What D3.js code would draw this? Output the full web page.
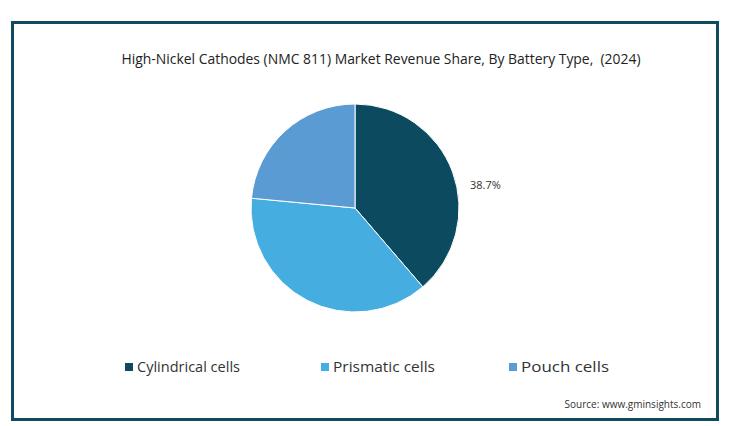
<!DOCTYPE html>
<html><head><meta charset="utf-8">
<script src="https://cdn.jsdelivr.net/npm/d3@7"></script>
<style>body{margin:0;background:#fff;}svg{display:block;font-family:"Source Sans Pro","Open Sans",sans-serif;}</style>
</head><body>
<svg id="c" width="733" height="426"></svg>
<script>
const categories = ["Cylindrical cells", "Prismatic cells", "Pouch cells"];
const shares = [38.7, 37.8, 23.5];
const colors = ["#0c4a5f", "#46ade0", "#5b9bd4"];
const shownLabels = ["38.7%", null, null];
const titleText = "High-Nickel Cathodes (NMC 811) Market Revenue Share, By Battery Type,  (2024)";
const sourceText = "Source: www.gminsights.com";

const svg = d3.select("#c");
svg.append("rect").attr("x", 12.5).attr("y", 22.5).attr("width", 705).attr("height", 397)
  .attr("fill", "#fff").attr("stroke", "#0f4b5f").attr("stroke-width", 3);

svg.append("text").attr("x", 381).attr("y", 64).attr("text-anchor", "middle")
  .attr("font-size", 14).attr("fill", "#222").attr("textLength", 519).attr("lengthAdjust", "spacingAndGlyphs")
  .style("white-space", "pre").text(titleText);

const cx = 355, cy = 208, r = 104;
const pie = d3.pie().sort(null).value(d => d)(shares);
const arc = d3.arc().innerRadius(0).outerRadius(r);
const g = svg.append("g").attr("transform", `translate(${cx},${cy})`);
g.selectAll("path").data(pie).join("path")
  .attr("d", arc).attr("fill", (d, i) => colors[i]).attr("stroke", "#fff").attr("stroke-width", 1);

const labelArc = d3.arc().innerRadius(r * 0.55).outerRadius(r * 0.55);
pie.forEach((d, i) => {
  if (!shownLabels[i]) return;
  const [, y] = labelArc.centroid(d);
  g.append("text").attr("x", r + 11).attr("y", y + 1).attr("font-size", 11).attr("fill", "#333")
    .attr("text-anchor", "start").text(shownLabels[i]);
});

const legendX = d3.scaleOrdinal().domain(categories).range([125, 321, 509]);
const lg = svg.append("g");
categories.forEach((c, i) => {
  const x = legendX(c);
  lg.append("rect").attr("x", x).attr("y", 363).attr("width", 8).attr("height", 8).attr("fill", colors[i]);
  lg.append("text").attr("x", x + 12).attr("y", 372).attr("font-size", 15).attr("fill", "#333")
    .attr("textLength", [103, 102, 88][i]).attr("lengthAdjust", "spacingAndGlyphs").text(c);
});

svg.append("text").attr("x", 701).attr("y", 408).attr("text-anchor", "end")
  .attr("font-size", 10).attr("fill", "#333").text(sourceText);
</script>
</body></html>
